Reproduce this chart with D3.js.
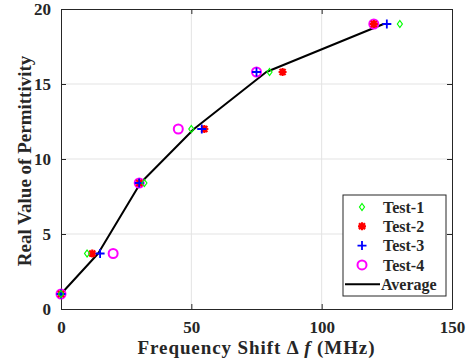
<!DOCTYPE html>
<html>
<head>
<meta charset="utf-8">
<script src="https://cdn.jsdelivr.net/npm/d3@7"></script>
<style>
  body { margin: 0; background: #fff; }
  text { font-family: "Liberation Serif", "Times New Roman", serif; font-weight: bold; fill: #262626; }
</style>
</head>
<body>
<div id="root"></div>
<script>
const WIDTH = 470
const HEIGHT = 361
const M = { left: 61, right: 18, top: 9, bottom: 52 }

// values
const permittivity = [1.0, 3.7, 8.4, 12.0, 15.8, 19.0]
const test1 = [0, 10, 32, 50, 80, 130]
const test2 = [0, 12, 30, 55, 85, 120]
const test3 = [0, 15, 30, 54, 75, 125]
const test4 = [0, 20, 30, 45, 75, 120]
const xTicks = [0, 50, 100, 150]
const yTicks = [0, 5, 10, 15, 20]

const average = permittivity.map((p, i) => (test1[i] + test2[i] + test3[i] + test4[i]) / 4)

const series = [
  { label: 'Test-1', xs: test1, color: '#00ff00', shape: 'diamond' },
  { label: 'Test-2', xs: test2, color: '#ff0000', shape: 'star' },
  { label: 'Test-3', xs: test3, color: '#0000ff', shape: 'plus' },
  { label: 'Test-4', xs: test4, color: '#ff00ff', shape: 'circle' }
]

const x = d3.scaleLinear().domain([0, 150]).range([M.left, WIDTH - M.right])
const y = d3.scaleLinear().domain([0, 20]).range([HEIGHT - M.bottom, M.top])

const svg = d3.select('#root').append('svg')
  .attr('width', WIDTH).attr('height', HEIGHT)

// grid
svg.append('g').selectAll('line').data(xTicks.slice(1, -1)).enter().append('line')
  .attr('x1', d => x(d)).attr('x2', d => x(d))
  .attr('y1', M.top).attr('y2', HEIGHT - M.bottom)
  .attr('stroke', '#e3e3e3').attr('stroke-width', 1)
svg.append('g').selectAll('line').data(yTicks.slice(1, -1)).enter().append('line')
  .attr('y1', d => y(d)).attr('y2', d => y(d))
  .attr('x1', M.left).attr('x2', WIDTH - M.right)
  .attr('stroke', '#e3e3e3').attr('stroke-width', 1)

// axes
const axisStyle = g => {
  g.select('.domain').attr('stroke', '#262626')
  g.selectAll('.tick line').attr('stroke', '#262626')
  g.selectAll('.tick text')
    .style('font-family', '"Liberation Serif", serif')
    .style('font-weight', 'bold').style('font-size', '17px').attr('fill', '#262626')
}

svg.append('g')
  .attr('transform', `translate(0,${HEIGHT - M.bottom})`)
  .call(d3.axisBottom(x).tickValues(xTicks).tickSizeInner(-5).tickSizeOuter(0).tickPadding(12))
  .call(axisStyle)
svg.append('g')
  .attr('transform', `translate(0,${M.top})`)
  .call(d3.axisTop(x).tickValues(xTicks).tickSizeInner(-5).tickSizeOuter(0).tickFormat(''))
  .call(axisStyle)
svg.append('g')
  .attr('transform', `translate(${M.left},0)`)
  .call(d3.axisLeft(y).tickValues(yTicks).tickSizeInner(-5).tickSizeOuter(0).tickPadding(10))
  .call(axisStyle)
svg.append('g')
  .attr('transform', `translate(${WIDTH - M.right},0)`)
  .call(d3.axisRight(y).tickValues(yTicks).tickSizeInner(-5).tickSizeOuter(0).tickFormat(''))
  .call(axisStyle)

// average line
const line = d3.line()
  .x(d => x(d[0])).y(d => y(d[1]))
svg.append('path')
  .datum(average.map((a, i) => [a, permittivity[i]]))
  .attr('d', line)
  .attr('fill', 'none').attr('stroke', '#000').attr('stroke-width', 2)
  .attr('stroke-linejoin', 'round')

function drawMarker(g, shape, color) {
  if (shape === 'diamond') {
    g.append('path').attr('d', 'M0,-3.5L2.5,0L0,3.5L-2.5,0Z')
      .attr('fill', 'none').attr('stroke', color).attr('stroke-width', 1.2)
  } else if (shape === 'star') {
    g.append('path').attr('d', 'M-4,0H4M0,-4V4M-3,-3L3,3M-3,3L3,-3')
      .attr('stroke', color).attr('stroke-width', 2.2)
    g.append('circle').attr('r', 2.5).attr('fill', color)
  } else if (shape === 'plus') {
    g.append('path').attr('d', 'M-4.5,0H4.5M0,-4.5V4.5')
      .attr('stroke', color).attr('stroke-width', 1.8)
  } else {
    g.append('circle').attr('r', 4.5)
      .attr('fill', 'none').attr('stroke', color).attr('stroke-width', 2)
  }
}

// markers
const order = [series[3], series[1], series[2], series[0]]
order.forEach(s => {
  s.xs.forEach((v, i) => {
    const g = svg.append('g').attr('transform', `translate(${x(v)},${y(permittivity[i])})`)
    drawMarker(g, s.shape, s.color)
  })
})

// legend
const LX = 343, LY = 195, LW = 103, LH = 101
const legend = svg.append('g')
legend.append('rect').attr('x', LX).attr('y', LY).attr('width', LW).attr('height', LH)
  .attr('fill', '#fff').attr('stroke', '#262626').attr('stroke-width', 1)

const legendItems = series.map(s => ({ label: s.label, color: s.color, shape: s.shape }))
  .concat([{ label: 'Average', color: '#000', shape: 'line' }])

legendItems.forEach((d, i) => {
  const cy = LY + 12 + i * 19.3
  if (d.shape === 'line') {
    legend.append('line').attr('x1', LX + 2).attr('x2', LX + 37)
      .attr('y1', cy).attr('y2', cy).attr('stroke', '#000').attr('stroke-width', 2)
  } else {
    const g = legend.append('g').attr('transform', `translate(${LX + 19},${cy})`)
    drawMarker(g, d.shape, d.color)
  }
  legend.append('text').attr('x', d.shape === 'line' ? LX + 38 : LX + 40)
    .attr('y', cy).attr('dy', '0.35em')
    .style('font-size', '16px').text(d.label)
})

// axis labels
svg.append('text')
  .attr('x', x(75)).attr('y', 354)
  .attr('text-anchor', 'middle').style('font-size', '19px')
  .style('letter-spacing', '0.9px')
  .html('Frequency Shift \u0394 <tspan font-style="italic">f</tspan> (MHz)')

svg.append('text')
  .attr('transform', `translate(31,161) rotate(-90)`)
  .attr('text-anchor', 'middle').style('font-size', '19px')
  .text('Real Value of Permittivity')
</script>
</body>
</html>
